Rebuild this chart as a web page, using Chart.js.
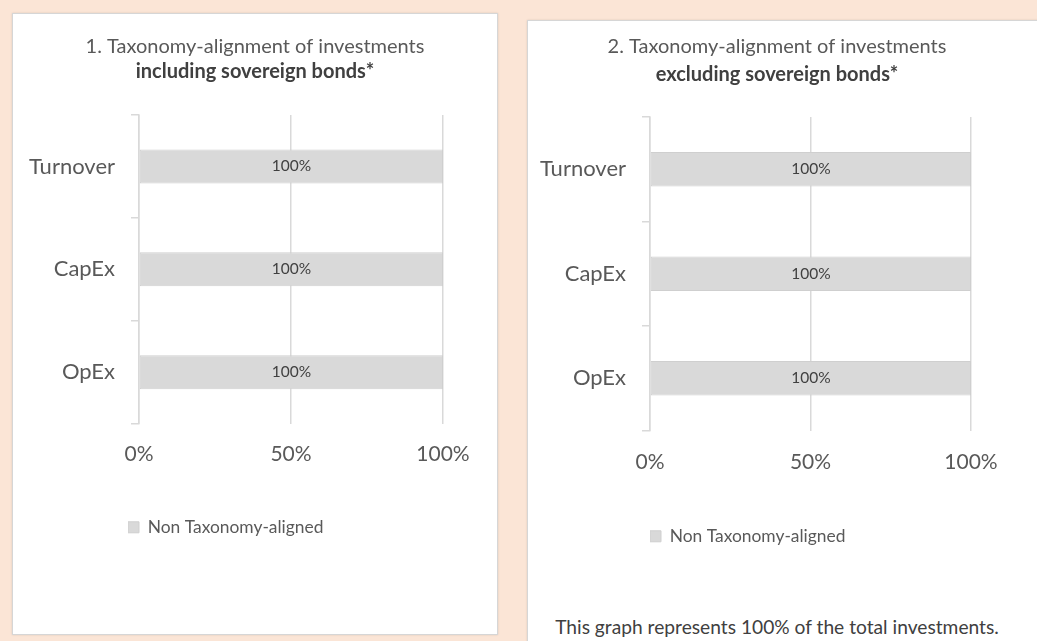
<!DOCTYPE html>
<html>
<head>
<meta charset="utf-8">
<script src="https://cdn.jsdelivr.net/npm/chart.js@4.4.1/dist/chart.umd.min.js"></script>
<style>
  html, body { margin: 0; padding: 0; }
  body { width: 1037px; height: 641px; background: #fbe5d6; position: relative; overflow: hidden; font-family: Lato, "Open Sans", sans-serif; }
  .panel { position: absolute; background: #fff; border: 1px solid #d6d6d6; box-shadow: 0 0 2px rgba(0,0,0,0.12); }
  #p1 { left: 12px; top: 13px; width: 484px; height: 620px; }
  #p2 { left: 527px; top: 20px; width: 520px; height: 640px; }
  .panel canvas { position: absolute; left: 0; top: 0; }
  #note { position: absolute; left: 0; top: 594px; width: 498px; text-align: center; font-size: 19.2px; color: #404040; }
</style>
</head>
<body>
<div class="panel" id="p1"><canvas id="chart1" width="484" height="532"></canvas></div>
<div class="panel" id="p2"><canvas id="chart2" width="498" height="534"></canvas>
  <div id="note">This graph represents 100% of the total investments.</div>
</div>
<script>
// chart data
const categories = ['Turnover', 'CapEx', 'OpEx'];
const seriesName = 'Non Taxonomy-aligned';
const inclSovereign = [100, 100, 100];
const exclSovereign = [100, 100, 100];
const xTicks = [0, 50, 100];

const titles1 = ['1. Taxonomy-alignment of investments', 'including sovereign bonds*'];
const titles2 = ['2. Taxonomy-alignment of investments', 'excluding sovereign bonds*'];

const textColor = '#595959';
const gridColor = '#d9d9d9';
const barColor = '#d9d9d9';

// draws the value in the middle of each bar
const barLabels = {
  id: 'barLabels',
  afterDatasetsDraw(chart) {
    const ctx = chart.ctx;
    ctx.save();
    ctx.font = '15.5px Lato, sans-serif';
    ctx.fillStyle = '#404040';
    ctx.textAlign = 'center';
    ctx.textBaseline = 'middle';
    chart.data.datasets.forEach((ds, i) => {
      chart.getDatasetMeta(i).data.forEach((bar, j) => {
        ctx.fillText(ds.data[j] + '%', (bar.x + bar.base) / 2, bar.y);
      });
    });
    ctx.restore();
  }
};

// nudges the legend sideways after layout
const legendShift = {
  id: 'legendShift',
  afterLayout(chart, args, opts) {
    if (chart.legend && opts.dx) {
      chart.legend.left += opts.dx;
      chart.legend.right += opts.dx;
    }
  }
};

function renderChart(id, titles, values, box) {
  new Chart(document.getElementById(id), {
    type: 'bar',
    data: {
      labels: categories,
      datasets: [{
        label: seriesName,
        data: values,
        backgroundColor: barColor,
        borderColor: '#cfcfcf',
        borderWidth: 1,
        borderSkipped: false,
        categoryPercentage: 1,
        barPercentage: 0.33
      }]
    },
    options: {
      indexAxis: 'y',
      responsive: false,
      animation: false,
      layout: { padding: 0 },
      plugins: {
        title: {
          display: true,
          text: titles[0],
          color: textColor,
          font: { family: 'Lato', size: 20, weight: 'normal' },
          padding: { top: box.titleTop, bottom: box.titleGap }
        },
        subtitle: {
          display: true,
          text: titles[1],
          color: '#404040',
          font: { family: 'Lato', size: 20, weight: 'bold' },
          padding: { top: 0, bottom: box.subBottom }
        },
        legend: {
          position: 'bottom',
          align: 'start',
          fullSize: false,
          labels: {
            color: textColor,
            font: { family: 'Lato', size: 17.4 },
            boxWidth: 11,
            boxHeight: 11,
            padding: 0
          }
        },
        legendShift: { dx: box.legendDx },
        tooltip: { enabled: false }
      },
      scales: {
        x: {
          min: 0,
          max: 100,
          afterBuildTicks: axis => { axis.ticks = xTicks.map(v => ({ value: v })); },
          afterFit: axis => { axis.height = box.xHeight; axis.paddingRight = box.right; },
          grid: { color: gridColor, lineWidth: 1.5, drawTicks: false },
          border: { display: false },
          ticks: {
            color: textColor,
            font: { family: 'Lato', size: 21 },
            padding: box.xPad,
            callback: v => v + '%'
          }
        },
        y: {
          afterFit: axis => { axis.width = box.left; },
          grid: { color: gridColor, lineWidth: 1.5, drawOnChartArea: false, tickLength: 8, offset: true },
          border: { color: gridColor, width: 1.5 },
          ticks: {
            color: textColor,
            font: { family: 'Lato', size: 22 },
            padding: 16
          }
        }
      }
    },
    plugins: [barLabels, legendShift]
  });
}

renderChart('chart1', titles1, inclSovereign,
  { titleTop: 21, titleGap: 1, subBottom: 31, left: 126, right: 54, xHeight: 95, xPad: 18, legendDx: -11 });
renderChart('chart2', titles2, exclSovereign,
  { titleTop: 14, titleGap: 4, subBottom: 30, left: 122, right: 55, xHeight: 97, xPad: 19, legendDx: 0 });
</script>
</body>
</html>
